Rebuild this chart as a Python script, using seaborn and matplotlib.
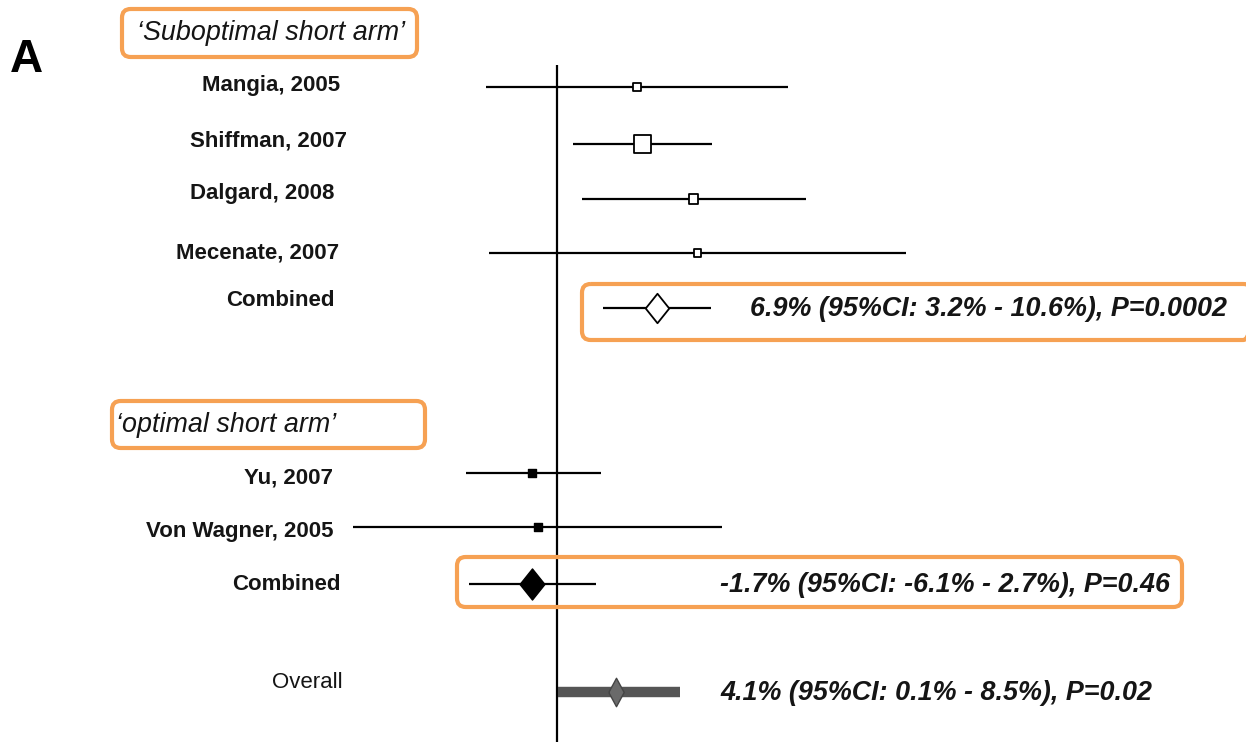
import matplotlib
matplotlib.use("Agg")
import matplotlib.pyplot as plt
from matplotlib.patches import FancyBboxPatch
import seaborn as sns
import pandas as pd

# ---------------- data ----------------
studies = ["Mangia, 2005", "Shiffman, 2007", "Dalgard, 2008", "Mecenate, 2007",
           "Yu, 2007", "Von Wagner, 2005"]
groups = ["sub", "sub", "sub", "sub", "opt", "opt"]
effect = [5.5, 5.9, 9.4, 9.7, -1.7, -1.3]
ci_low = [-4.9, 1.1, 1.7, -4.7, -6.3, -14.1]
ci_high = [15.9, 10.7, 17.2, 24.1, 3.0, 11.4]
weight = [1.0, 4.5, 1.2, 0.8, 0.9, 1.1]

pooled_labels = ["Combined", "Combined", "Overall"]
pooled_est = [6.9, -1.7, 4.1]
pooled_lo = [3.2, -6.1, 0.1]
pooled_hi = [10.6, 2.7, 8.5]
pooled_p = ["0.0002", "0.46", "0.02"]

headers = ["\u2018Suboptimal short arm\u2019", "\u2018optimal short arm\u2019"]

# ---------------- layout ----------------
W, H = 1246, 742
X0 = 557.0       # pixel of 0 %
PXU = 14.5       # pixels per %
def px2x(p):
    return (p - X0) / PXU

study_y = [87, 144, 199, 253, 473, 527]
study_label_y = [85, 141, 194, 253, 478, 532]
pooled_y = [308, 584, 692]
pooled_label_y = [300, 584, 683]
label_right = [340, 347, 334, 339, 333, 334]
pooled_label_right = [335, 341, 343]
result_x = [750, 720, 720]

sns.set_theme(style="white")
plt.rcParams["font.family"] = ["Liberation Sans", "DejaVu Sans"]

fig = plt.figure(figsize=(W / 100, H / 100), dpi=100)
ax = fig.add_axes([0, 0, 1, 1])
ax.set_xlim(px2x(0), px2x(W))
ax.set_ylim(H, 0)
ax.axis("off")

ORANGE = "#F6A153"
INK = "#151515"

df = pd.DataFrame({"study": studies, "group": groups, "effect": effect,
                   "lo": ci_low, "hi": ci_high, "weight": weight, "y": study_y})

# zero line
ax.vlines(0, 65, H, color="black", lw=1.6, zorder=1)

# study CI lines
ax.hlines(df["y"], df["lo"], df["hi"], color="black", lw=1.6, zorder=2)
# study squares
sub = df[df.group == "sub"]
opt = df[df.group == "opt"]
sns.scatterplot(data=sub, x="effect", y="y", marker="s", size="weight",
                sizes=(28, 160), facecolor="white", edgecolor="black",
                linewidth=1.3, legend=False, ax=ax, zorder=4)
sns.scatterplot(data=opt, x="effect", y="y", marker="s", s=40,
                color="black", edgecolor="black", linewidth=1,
                legend=False, ax=ax, zorder=4)

# pooled estimates
pdf = pd.DataFrame({"est": pooled_est, "lo": pooled_lo, "hi": pooled_hi, "y": pooled_y})
diamond = [(-0.4, 0), (0, 0.5), (0.4, 0), (0, -0.5), (-0.4, 0)]
ax.hlines(pdf["y"][:2], pdf["lo"][:2], pdf["hi"][:2], color="black", lw=1.6, zorder=2)
ax.hlines(pdf["y"][2:], pdf["lo"][2:], pdf["hi"][2:], color="#555555", lw=7.5, zorder=2)
ax.scatter(pdf["est"][0:1], pdf["y"][0:1], marker=diamond, s=450,
           facecolor="white", edgecolor="black", linewidth=1.3, zorder=4)
ax.scatter(pdf["est"][1:2], pdf["y"][1:2], marker=diamond, s=500,
           facecolor="black", edgecolor="black", linewidth=1, zorder=4)
diamond2 = [(-0.27, 0), (0, 0.5), (0.27, 0), (0, -0.5), (-0.27, 0)]
ax.scatter(pdf["est"][2:3], pdf["y"][2:3], marker=diamond2, s=420,
           facecolor="#6a6a6a", edgecolor="#444444", linewidth=1, zorder=4)

# labels
for name, ly, rx in zip(studies, study_label_y, label_right):
    ax.text(px2x(rx), ly, name, ha="right", va="center", fontsize=16,
            fontweight="bold", color=INK)
for i, (name, ly, rx) in enumerate(zip(pooled_labels, pooled_label_y, pooled_label_right)):
    ax.text(px2x(rx), ly, name, ha="right", va="center", fontsize=16,
            fontweight="bold" if i < 2 else "normal", color=INK)

# result texts
for est, lo, hi, p, y, rx in zip(pooled_est, pooled_lo, pooled_hi, pooled_p, pooled_y, result_x):
    txt = f"{est}% (95%CI: {lo}% - {hi}%), P={p}"
    ax.text(px2x(rx), y + 1, txt, ha="left", va="center", fontsize=19.4,
            fontweight="bold", fontstyle="italic", color=INK)

# headers
ax.text(px2x(137), 33, headers[0], ha="left", va="center", fontsize=19.4,
        fontstyle="italic", color=INK)
ax.text(px2x(116), 425, headers[1], ha="left", va="center", fontsize=19.4,
        fontstyle="italic", color=INK)

# panel letter
ax.text(px2x(10), 60, "A", ha="left", va="center", fontsize=33,
        fontweight="bold", color="black")

# orange boxes (pixel rectangles -> data)
def box(x1, y1, x2, y2):
    r = FancyBboxPatch((px2x(x1), y1), px2x(x2) - px2x(x1), y2 - y1,
                       boxstyle="round,pad=0,rounding_size=0.6",
                       mutation_aspect=14.5,
                       facecolor="none", edgecolor=ORANGE, lw=3, zorder=5)
    ax.add_patch(r)

box(122, 9, 417, 57)
box(582, 284, 1252, 340)
box(112, 401, 425, 448)
box(457, 557, 1182, 607)

fig.savefig("out.png", dpi=100)
